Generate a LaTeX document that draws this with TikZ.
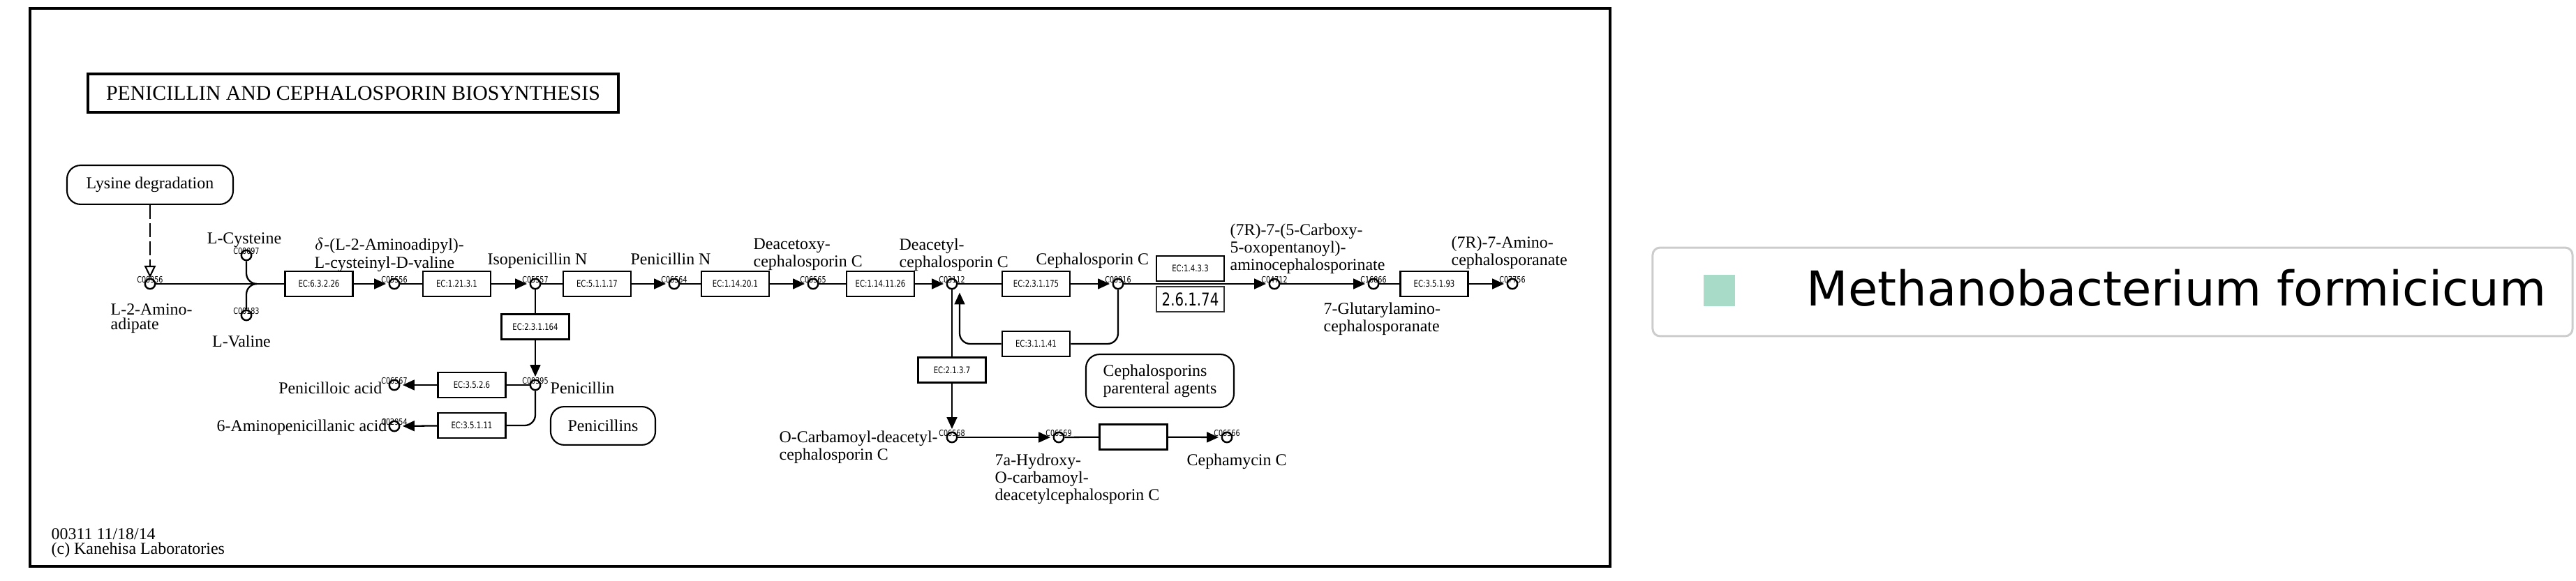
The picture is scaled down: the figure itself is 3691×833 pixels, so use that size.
\documentclass[tikz,border=0pt]{standalone}
\usepackage{fontspec}
\setmainfont{Liberation Serif}
\newfontfamily\ecfont[FakeStretch=0.78]{DejaVu Sans}
\newfontfamily\legendfont{DejaVu Sans}
\usetikzlibrary{arrows.meta,positioning}
\definecolor{legendgreen}{HTML}{A8DCC8}
\definecolor{legendedge}{HTML}{CCCCCC}
\tikzset{
  ecbox/.style={draw,line width=0.75pt,fill=white,minimum width=27.6pt,minimum height=10.2pt,
    inner sep=0pt,font=\ecfont\fontsize{3.7}{4}\selectfont},
  numbox/.style={draw=black!80,line width=0.45pt,fill=white,minimum width=27.6pt,minimum height=10.2pt,
    inner sep=0pt,font=\ecfont\fontsize{7.2}{8}\selectfont},
  cpd/.style={circle,draw,line width=0.7pt,fill=white,minimum size=4.1pt,inner sep=0pt},
  idlabel/.style={inner sep=0pt,font=\ecfont\fontsize{3.5}{4}\selectfont},
  cname/.style={inner sep=0pt,align=left,font=\fontsize{6.8}{6}\selectfont},
  mapbox/.style={draw,line width=0.6pt,rounded corners=5.5pt,inner sep=0pt,align=left,
    font=\fontsize{6.8}{6}\selectfont},
  titlebox/.style={draw,line width=1pt,minimum width=216.2pt,minimum height=15.6pt,inner sep=0pt,
    font=\fontsize{8.5}{10}\selectfont},
  rxn/.style={line width=0.65pt},
  react/.style={rxn,shorten >=1pt,-{Triangle[length=4.8pt,width=4.2pt]}},
}
\begin{document}
\begin{tikzpicture}[x=0.2845pt,y=-0.2845pt]
\useasboundingbox (0,0) rectangle (3691,833);
\def\cpdnode#1#2#3{%
  \node[cpd] (#1) at (#2) {};
  \node[idlabel] (#1-id) at ([yshift=1.7pt]#1.center) {#3};}
% frame and title
\draw[line width=1pt] (43,12) rectangle (2307,812);
\node[titlebox] (title) at (506,133.5) {PENICILLIN AND CEPHALOSPORIN BIOSYNTHESIS};
% linked maps
\node[mapbox,minimum width=67.7pt,minimum height=15.9pt] (lysdeg) at (215,265) {Lysine degradation};
\node[mapbox,minimum width=42.7pt,minimum height=15.6pt] (pcnmap) at (864,610.5) {Penicillins};
\node[mapbox,minimum width=60.3pt,minimum height=21.6pt] (cephmap) at (1662,546) {Cephalosporins\\parenteral agents};
% compounds
\cpdnode{c00956}{215,407}{C00956}
\cpdnode{c00097}{353,366}{C00097}
\cpdnode{c00183}{353,452}{C00183}
\cpdnode{c05556}{565,407}{C05556}
\cpdnode{c05557}{767,407}{C05557}
\cpdnode{c06564}{966,407}{C06564}
\cpdnode{c06565}{1165,407}{C06565}
\cpdnode{c03112}{1364,407}{C03112}
\cpdnode{c00916}{1602,407}{C00916}
\cpdnode{c04712}{1826,407}{C04712}
\cpdnode{c16866}{1968,407}{C16866}
\cpdnode{c07756}{2167,407}{C07756}
\cpdnode{c00395}{767,552}{C00395}
\cpdnode{c06567}{565,552}{C06567}
\cpdnode{c02954}{565,611}{C02954}
\cpdnode{c06568}{1364,627}{C06568}
\cpdnode{c06569}{1517,627}{C06569}
\cpdnode{c06566}{1758,627}{C06566}
\coordinate (acvjoin) at (368,407);
\coordinate (deacin) at (1375,416);
% enzymes
\node[ecbox] (ec63226) at (457,407) {EC:6.3.2.26};
\node[ecbox] (ec12131) at (654.5,407) {EC:1.21.3.1};
\node[ecbox] (ec51117) at (855.5,407) {EC:5.1.1.17};
\node[ecbox] (ec114201) at (1053.5,407) {EC:1.14.20.1};
\node[ecbox] (ec1141126) at (1261.5,407) {EC:1.14.11.26};
\node[ecbox] (ec231175) at (1484.5,407) {EC:2.3.1.175};
\node[ecbox] (ec1433) at (1705.5,385) {EC:1.4.3.3};
\node[numbox] (ec26174) at (1705.5,429) {2.6.1.74};
\node[ecbox] (ec35193) at (2055,407) {EC:3.5.1.93};
\node[ecbox] (ec231164) at (767,468.5) {EC:2.3.1.164};
\node[ecbox] (ec3526) at (676,552) {EC:3.5.2.6};
\node[ecbox] (ec35111) at (676,610) {EC:3.5.1.11};
\node[ecbox] (ec311141) at (1484.5,493) {EC:3.1.1.41};
\node[ecbox] (ec2137) at (1364,530.5) {EC:2.1.3.7};
\node[ecbox] (ecblank) at (1624,626.5) {};
% compound names
\node[cname,anchor=north west] (n00956) at (158,435) {L-2-Amino-\\adipate};
\node[cname,anchor=north] (n00097) at (350,333) {L-Cysteine};
\node[cname,anchor=north] (n00183) at (346,480) {L-Valine};
\node[cname,anchor=north west] (n05556) at (450,341) {$\delta$-(L-2-Aminoadipyl)-\\L-cysteinyl-D-valine};
\node[cname,anchor=north] (n05557) at (770,362) {Isopenicillin N};
\node[cname,anchor=north] (n06564) at (961,362) {Penicillin N};
\node[cname,anchor=north west] (n06565) at (1079,341) {Deacetoxy-\\cephalosporin C};
\node[cname,anchor=north west] (n03112) at (1288,341) {Deacetyl-\\cephalosporin C};
\node[cname,anchor=north west] (n00916) at (1484,362) {Cephalosporin C};
\node[cname,anchor=north west] (n04712) at (1762,320) {(7R)-7-(5-Carboxy-\\5-oxopentanoyl)-\\aminocephalosporinate};
\node[cname,anchor=north west] (n16866) at (1896,433) {7-Glutarylamino-\\cephalosporanate};
\node[cname,anchor=north west] (n07756) at (2079,338) {(7R)-7-Amino-\\cephalosporanate};
\node[cname,anchor=west] (n00395) at (788,556) {Penicillin};
\node[cname,anchor=east] (n06567) at (548,556) {Penicilloic acid};
\node[cname,anchor=east] (n02954) at (555,613) {6-Aminopenicillanic acid};
\node[cname,anchor=north west] (n06568) at (1116,617) {O-Carbamoyl-deacetyl-\\cephalosporin C};
\node[cname,anchor=north west] (n06569) at (1425,650) {7a-Hydroxy-\\O-carbamoyl-\\deacetylcephalosporin C};
\node[cname,anchor=north west] (n06566) at (1700,650) {Cephamycin C};
\node[cname,anchor=north west] (mapid) at (73,757) {00311 11/18/14\\(c) Kanehisa Laboratories};
% reactions
\draw[line width=0.6pt,dash pattern=on 5.7pt off 1.7pt,-{Triangle[open,length=5pt,width=4.6pt]}] (lysdeg) -- (c00956);
\draw[rxn] (c00956) -- (ec63226);
\draw[rxn,rounded corners=4.3pt] (c00097) |- (acvjoin);
\draw[rxn,rounded corners=4.3pt] (c00183) |- (acvjoin);
\draw[react] (ec63226) -- (c05556);
\draw[rxn] (c05556) -- (ec12131);
\draw[react] (ec12131) -- (c05557);
\draw[rxn] (c05557) -- (ec51117);
\draw[react] (ec51117) -- (c06564);
\draw[rxn] (c06564) -- (ec114201);
\draw[react] (ec114201) -- (c06565);
\draw[rxn] (c06565) -- (ec1141126);
\draw[react] (ec1141126) -- (c03112);
\draw[rxn] (c03112) -- (ec231175);
\draw[react] (ec231175) -- (c00916);
\draw[react] (c00916) -- (c04712);
\draw[react] (c04712) -- (c16866);
\draw[rxn] (c16866) -- (ec35193);
\draw[react] (ec35193) -- (c07756);
% penicillin branch
\draw[rxn] (c05557) -- (ec231164);
\draw[react] (ec231164) -- (c00395);
\draw[rxn] (c00395) -- (ec3526);
\draw[react] (ec3526) -- (c06567);
\draw[rxn,rounded corners=4.3pt] (c00395) |- (ec35111);
\draw[react] (ec35111) -- (c02954);
% cephamycin branch
\draw[rxn] (c03112) -- (ec2137);
\draw[react] (ec2137) -- (c06568);
\draw[rxn,rounded corners=4.3pt] (c00916) |- (ec311141);
\draw[react,rounded corners=4.3pt] (ec311141) -| (deacin);
\draw[react] (c06568) -- (c06569);
\draw[rxn] (c06569) -- (ecblank);
\draw[react] (ecblank) -- (c06566);
% legend
\node[draw=legendedge,line width=0.85pt,rounded corners=3pt,minimum width=375pt,minimum height=36.1pt] (legend) at (3027,418.5) {};
\node[fill=legendgreen,minimum size=12.8pt,inner sep=0pt] (legendkey) at (2463.5,417) {};
\node[anchor=base west,inner sep=0pt,font=\legendfont\fontsize{19.6}{22}\selectfont] (legendtext) at (2588,439) {Methanobacterium formicicum};
\end{tikzpicture}
\end{document}
